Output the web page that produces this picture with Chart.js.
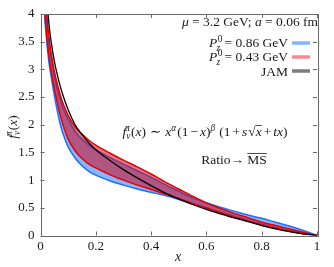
<!DOCTYPE html>
<html><head><meta charset="utf-8">
<script src="https://cdn.jsdelivr.net/npm/chart.js@4.4.1/dist/chart.umd.min.js"></script>
<style>html,body{margin:0;padding:0;background:#fff}#w{width:334px;height:267px}</style>
</head><body><div id="w"><canvas id="c" width="334" height="267"></canvas></div>
<script>
const xs    = [0.01,0.015,0.02,0.03,0.04,0.05,0.06,0.07,0.08,0.1,0.125,0.15,0.175,0.2,0.25,0.3,0.35,0.4,0.45,0.5,0.55,0.6,0.65,0.7,0.75,0.8,0.85,0.9,0.95,1.0];
const jam   = [6.5,5.3,4.6,3.85,3.45,3.15,2.92,2.72,2.55,2.27,2.0,1.82,1.67,1.55,1.36,1.19,1.04,0.90,0.77,0.66,0.56,0.47,0.39,0.32,0.25,0.18,0.12,0.07,0.03,0];
const redHi = [5.4,4.6,4.15,3.6,3.25,2.97,2.75,2.56,2.40,2.17,1.96,1.83,1.72,1.63,1.49,1.36,1.24,1.11,0.97,0.84,0.71,0.59,0.49,0.40,0.32,0.24,0.18,0.12,0.06,0];
const redLo = [5.0,4.1,3.75,3.25,2.92,2.65,2.42,2.2,2.02,1.74,1.53,1.39,1.29,1.22,1.10,1.0,0.91,0.83,0.75,0.67,0.58,0.50,0.41,0.33,0.26,0.19,0.13,0.08,0.03,0];
const blueHi= [5.3,4.5,4.05,3.5,3.15,2.88,2.66,2.48,2.32,2.10,1.88,1.74,1.63,1.55,1.41,1.29,1.17,1.05,0.92,0.80,0.68,0.59,0.51,0.44,0.37,0.31,0.24,0.17,0.09,0];
const blueLo= [4.9,4.0,3.65,3.15,2.83,2.53,2.27,2.04,1.86,1.60,1.40,1.26,1.16,1.09,0.99,0.91,0.84,0.78,0.72,0.65,0.57,0.49,0.42,0.35,0.27,0.20,0.14,0.09,0.04,0];
const xTicks = [0,0.2,0.4,0.6,0.8,1];
const yTicks = [0,0.5,1,1.5,2,2.5,3,3.5,4];
const legendLabels = ["0.86 GeV","0.43 GeV","JAM"];

const pts = ys => xs.map((x,i)=>({x:x,y:ys[i]}));
const SERIF = '"Liberation Serif","DejaVu Serif",serif';
const BLUE='rgb(30,110,255)', RED='rgb(230,0,0)';

function rich(ctx, segs, x, y, align, size){
  const fontOf = s => (s.it?'italic ':'') + (size*(s.s||1)).toFixed(1) + 'px ' + SERIF;
  let w=0; const ws=[];
  for(const s of segs){ ctx.font=fontOf(s); const m=ctx.measureText(s.t).width + (s.gap||0) + (s.pre||0); ws.push(m); w+=m; }
  let cx = align==='right'? x-w : align==='center'? x-w/2 : x;
  ctx.textBaseline='alphabetic'; ctx.textAlign='left';
  segs.forEach((s,i)=>{
    ctx.font=fontOf(s);
    const tx = cx + (s.pre||0);
    ctx.fillText(s.t, tx, y + (s.dy||0)*size);
    if(s.ov){ ctx.save(); ctx.lineWidth=0.8; ctx.strokeStyle=ctx.fillStyle; ctx.beginPath();
      const oy = y + (s.dy||0)*size - size*0.78; ctx.moveTo(tx, oy); ctx.lineTo(cx+ws[i]-(s.gap||0), oy); ctx.stroke(); ctx.restore(); }
    cx += ws[i];
  });
  return w;
}

const deco = {
  id:'deco',
  afterDraw(chart){
    const ctx=chart.ctx, a=chart.chartArea, xs_=chart.scales.x, ys_=chart.scales.y;
    ctx.save();
    ctx.strokeStyle='rgb(105,105,105)'; ctx.lineWidth=1;
    ctx.strokeRect(Math.round(a.left)+0.5, Math.round(a.top)+0.5, Math.round(a.right-a.left), Math.round(a.bottom-a.top));
    ctx.beginPath();
    for(const v of xTicks){ const px=Math.round(xs_.getPixelForValue(v))+0.5;
      ctx.moveTo(px,a.bottom); ctx.lineTo(px,a.bottom-4); ctx.moveTo(px,a.top); ctx.lineTo(px,a.top+4); }
    for(const v of yTicks){ const py=Math.round(ys_.getPixelForValue(v))+0.5;
      ctx.moveTo(a.left,py); ctx.lineTo(a.left+4,py); ctx.moveTo(a.right,py); ctx.lineTo(a.right-4,py); }
    ctx.stroke();
    ctx.fillStyle='#1a1a1a';
    const T=13.5;
    rich(ctx,[{t:'μ',it:1},{t:' = 3.2 GeV; '},{t:'a',it:1},{t:' = 0.06 fm'}], 318, 26, 'right', T);
    const rows=[43,57,71];
    const sw=['rgb(130,180,255)','rgb(245,140,140)','rgb(125,125,125)'];
    for(let i=0;i<3;i++){
      if(i<2) rich(ctx,[{t:'P',it:1,gap:0.5},{t:'0',s:0.7,dy:-0.38,gap:-6},{t:'z',it:1,s:0.7,dy:0.3,gap:1},{t:' = '+legendLabels[i]}], 288, rows[i]+4, 'right', T);
      else rich(ctx,[{t:legendLabels[i]}], 288, rows[i]+4.5, 'right', T);
      ctx.strokeStyle=sw[i]; ctx.lineWidth=3.5; ctx.beginPath(); ctx.moveTo(292,rows[i]); ctx.lineTo(310,rows[i]); ctx.stroke();
    }
    rich(ctx,[{t:'f',it:1},{t:'v',it:1,s:0.7,dy:0.25,gap:-5},{t:'π',it:1,s:0.7,dy:-0.4,gap:1},{t:'('},{t:'x',it:1},{t:')'},{t:'∼',pre:4,gap:4},
      {t:'x',it:1},{t:'α',it:1,s:0.7,dy:-0.4,gap:1},{t:'(1'},{t:'−',pre:2,gap:2},{t:'x',it:1},{t:')'},{t:'β',it:1,s:0.7,dy:-0.4,gap:2},{t:'(1',pre:2},{t:'+',pre:2,gap:2},{t:'s',it:1},{t:'√',pre:1},{t:'x',it:1,ov:1},{t:'+',pre:2,gap:2},{t:'tx',it:1},{t:')'}],
      205, 136, 'center', T);
    rich(ctx,[{t:'Ratio→ '},{t:'MS',ov:1}], 234, 164, 'center', T);
    rich(ctx,[{t:'x',it:1}], 178, 261, 'center', 14);
    ctx.save(); ctx.translate(17,127); ctx.rotate(-Math.PI/2);
    rich(ctx,[{t:'f',it:1},{t:'v',it:1,s:0.7,dy:0.25,gap:-5},{t:'π',it:1,s:0.7,dy:-0.4,gap:1},{t:'('},{t:'x',it:1},{t:')'}], 0, 0, 'center', T);
    ctx.restore();
    ctx.restore();
  }
};

const line = (data,color,w,extra) => Object.assign({data:pts(data),borderColor:color,borderWidth:w,pointRadius:0,fill:false,cubicInterpolationMode:'monotone'},extra||{});

new Chart(document.getElementById('c'),{
  type:'line',
  data:{datasets:[
    line(jam,'#000',1.3),
    line(redHi,RED,1.5),
    line(redLo,RED,1.5,{fill:'-1',backgroundColor:'rgba(210,10,25,0.55)'}),
    line(blueHi,BLUE,1.5),
    line(blueLo,BLUE,1.5,{fill:'-1',backgroundColor:'rgba(40,120,255,0.55)'})
  ]},
  options:{
    responsive:false, animation:false, devicePixelRatio:1,
    layout:{padding:{left:0,right:17,top:14,bottom:0}},
    plugins:{legend:{display:false},tooltip:{enabled:false}},
    scales:{
      x:{type:'linear',min:0,max:1,afterBuildTicks(s){s.ticks=xTicks.map(v=>({value:v}));},
         ticks:{font:{family:SERIF,size:13},color:'#1a1a1a',padding:3,maxRotation:0,callback:v=>String(v)},
         grid:{display:false,drawTicks:false},border:{display:false},afterFit(s){s.height=31.5;}},
      y:{type:'linear',min:0,max:4,afterBuildTicks(s){s.ticks=yTicks.map(v=>({value:v}));},
         ticks:{font:{family:SERIF,size:13},color:'#1a1a1a',padding:6,callback:v=>String(v)},
         grid:{display:false,drawTicks:false},border:{display:false},afterFit(s){s.width=40.5;}}
    }
  },
  plugins:[deco]
});
</script></body></html>
